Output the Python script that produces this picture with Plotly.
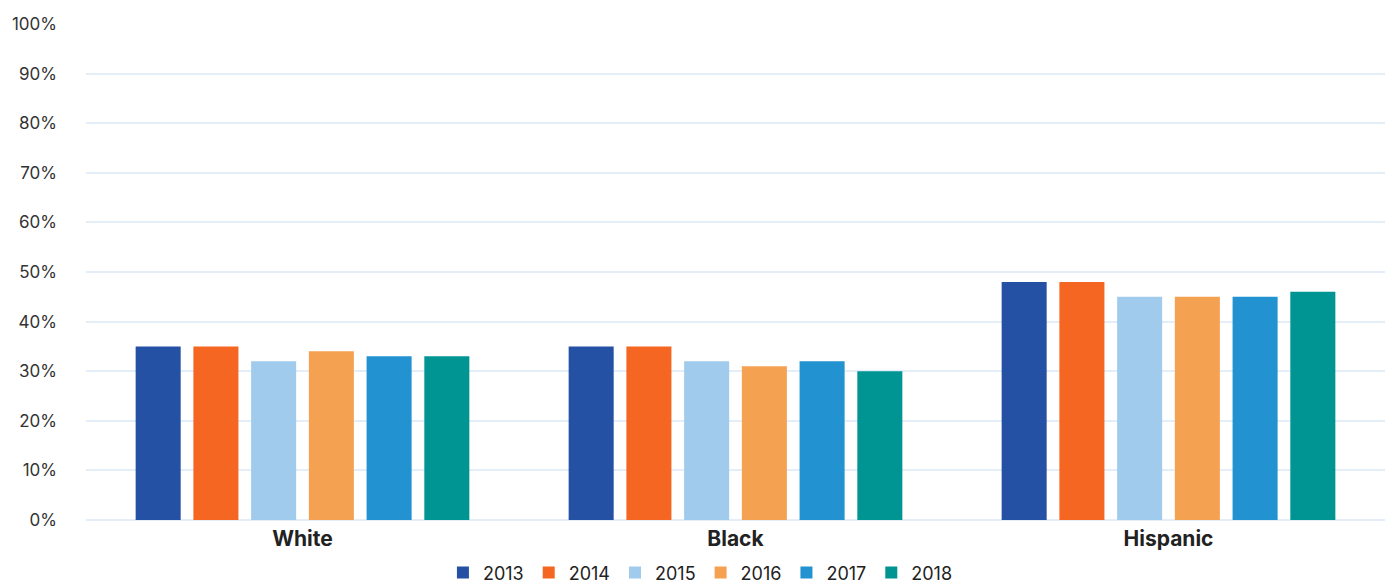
import plotly.graph_objects as go

categories = ["White", "Black", "Hispanic"]
years = ["2013", "2014", "2015", "2016", "2017", "2018"]
values = {
    "2013": [35, 35, 48],
    "2014": [35, 35, 48],
    "2015": [32, 32, 45],
    "2016": [34, 31, 45],
    "2017": [33, 32, 45],
    "2018": [33, 30, 46],
}
colors = ["#2451a4", "#f46622", "#a0cbed", "#f4a152", "#2292d0", "#009593"]
tick_vals = [0, 10, 20, 30, 40, 50, 60, 70, 80, 90, 100]
tick_text = [f"{v}%" for v in tick_vals]

fig = go.Figure()
for y, c in zip(years, colors):
    fig.add_trace(go.Bar(
        name=y, x=categories, y=values[y],
        marker=dict(color=c, line=dict(width=0)),
    ))

fig.update_layout(
    width=1386, height=584,
    paper_bgcolor="white", plot_bgcolor="white",
    margin=dict(l=86, r=1, t=24, b=64),
    barmode="group", bargap=0.2, bargroupgap=0.22,
    font=dict(family="Inter, Roboto, sans-serif", size=16, color="#333333"),
    showlegend=True,
    legend=dict(orientation="h", x=0.473, xanchor="center",
                yref="container", y=0.019, yanchor="middle",
                font=dict(size=18, color="#222222"), itemwidth=30, tracegroupgap=0,
                traceorder="normal"),
    xaxis=dict(
        tickmode="array", tickvals=categories,
        ticktext=[f"<b>{c}</b>" for c in categories],
        tickfont=dict(size=21, color="#222222"),
        showgrid=False, showline=False, ticks="",
        automargin=False, ticklabelstandoff=4,
    ),
    yaxis=dict(
        range=[0, 100], tickmode="array", tickvals=tick_vals, ticktext=tick_text,
        showgrid=True, gridcolor="#e3eef9", gridwidth=2,
        zeroline=True, zerolinecolor="#e3eef9", zerolinewidth=2,
        showline=False, ticks="", ticklabelstandoff=28,
        tickfont=dict(size=17, color="#333333"),
        automargin=False,
    ),
)

fig.write_html("out.html", config={"displayModeBar": False},
               post_script="document.body.style.margin='0';")
